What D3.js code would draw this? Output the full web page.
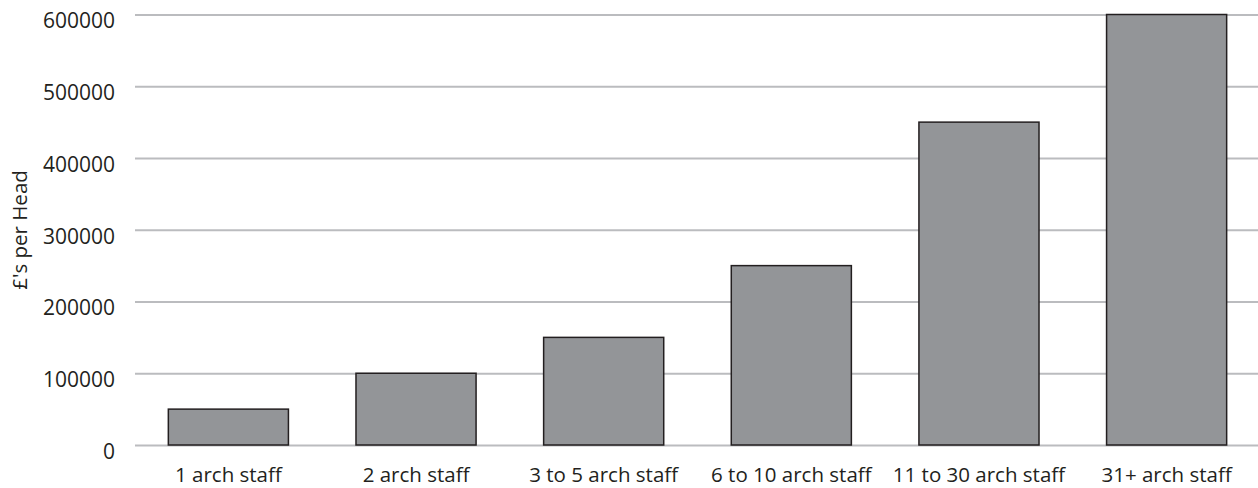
<!DOCTYPE html>
<html>
<head>
<meta charset="utf-8">
<script src="https://cdn.jsdelivr.net/npm/d3@7/dist/d3.min.js"></script>
<style>
  html, body { margin: 0; padding: 0; background: #fff; }
  svg text { font-family: "Open Sans", "Noto Sans", sans-serif; fill: #231f20; }
</style>
</head>
<body>
<svg id="chart" width="1258" height="488"></svg>
<script>
const categories = ["1 arch staff", "2 arch staff", "3 to 5 arch staff", "6 to 10 arch staff", "11 to 30 arch staff", "31+ arch staff"];
const values = [50000, 100000, 150000, 250000, 450000, 600000];
const yTicks = [0, 100000, 200000, 300000, 400000, 500000, 600000];
const yTitle = "£'s per Head";

const W = 1258, H = 488;
const plotLeft = 135, plotRight = 1258, plotTop = 14.5, plotBottom = 445;

const svg = d3.select("#chart");

const y = d3.scaleLinear().domain([0, 600000]).range([plotBottom, plotTop]);
const x = d3.scaleBand().domain(categories).range([plotLeft + 2, plotRight])
  .paddingInner(0.36).paddingOuter(0.167);

// gridlines
const yAxis = d3.axisLeft(y).tickValues(yTicks).tickSize(-(plotRight - plotLeft)).tickFormat(d3.format("d"));
const gy = svg.append("g").attr("transform", `translate(${plotLeft},0)`).call(yAxis);
gy.select(".domain").remove();
gy.selectAll(".tick line").attr("stroke", "#bbbcbf").attr("stroke-width", 2.2);
gy.selectAll(".tick text")
  .attr("x", -20).attr("dy", "0.95em").attr("y", -6.5)
  .style("font-size", "21px").attr("fill", "#231f20").attr("text-anchor", "end");

// bars
svg.append("g").selectAll("rect").data(values).join("rect")
  .attr("x", (d, i) => x(categories[i]))
  .attr("width", x.bandwidth())
  .attr("y", d => y(d))
  .attr("height", d => y(0) - y(d))
  .attr("fill", "#939598")
  .attr("stroke", "#231f20")
  .attr("stroke-width", 1.5);

// x axis labels
const xAxis = d3.axisBottom(x).tickSize(0);
const gx = svg.append("g").attr("transform", `translate(0,${plotBottom})`).call(xAxis);
gx.select(".domain").remove();
gx.selectAll(".tick text")
  .attr("y", 37).attr("dy", 0)
  .style("font-size", "20.5px").attr("fill", "#231f20");

// y title
svg.append("text")
  .attr("transform", `translate(27,230) rotate(-90)`)
  .attr("text-anchor", "middle")
  .style("font-size", "20.5px")
  .text(yTitle);
</script>
</body>
</html>
